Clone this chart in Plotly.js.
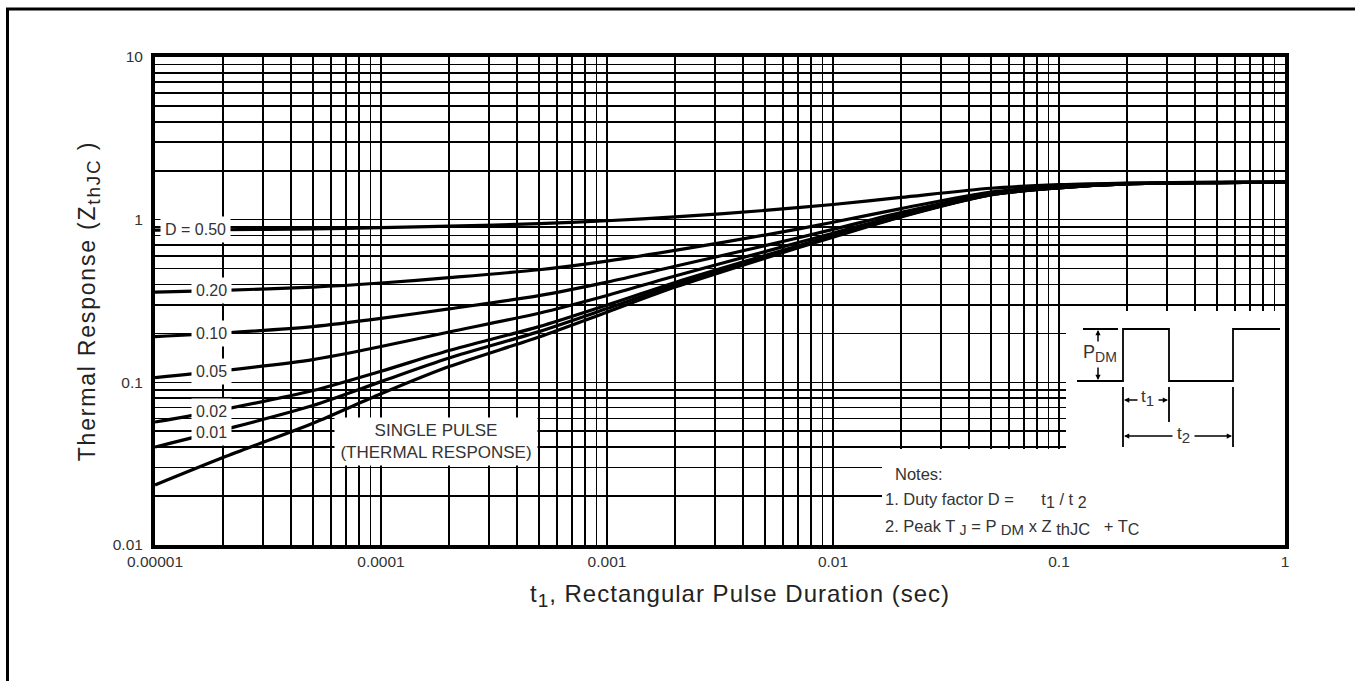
<!DOCTYPE html>
<html><head><meta charset="utf-8">
<script src="https://cdn.plot.ly/plotly-3.0.1.min.js"></script>
<style>
html,body{margin:0;padding:0;background:#fff;overflow:hidden}
#chart{width:1355px;height:681px}
#chart .xtitle{letter-spacing:1px;transform:translate(20px,0px)}
#chart .ytitle{letter-spacing:1.8px}
</style>
</head><body><div id="chart"></div>
<script>
// ---- data ----
const pulseDuration = [1e-5,2e-5,5e-5,1e-4,2e-4,5e-4,1e-3,2e-3,5e-3,1e-2,2e-2,5e-2,0.1,0.2,0.5,1];
const zD050  = [0.862,0.867,0.878,0.893,0.912,0.945,0.985,1.04,1.14,1.24,1.37,1.56,1.64,1.68,1.70,1.70];
const zD020  = [0.359,0.368,0.385,0.408,0.44,0.492,0.556,0.648,0.804,0.964,1.17,1.48,1.60,1.67,1.69,1.70];
const zD010  = [0.191,0.201,0.220,0.247,0.283,0.341,0.413,0.517,0.692,0.872,1.106,1.448,1.58,1.66,1.69,1.70];
const zD005  = [0.107,0.118,0.138,0.166,0.204,0.266,0.342,0.451,0.636,0.826,1.073,1.434,1.58,1.66,1.69,1.70];
const zD002  = [0.057,0.068,0.089,0.117,0.157,0.220,0.299,0.411,0.602,0.798,1.053,1.426,1.57,1.66,1.69,1.70];
const zD001  = [0.040,0.051,0.072,0.101,0.141,0.205,0.284,0.398,0.591,0.789,1.047,1.423,1.57,1.66,1.69,1.70];
const zSingle= [0.0234,0.0345,0.056,0.085,0.125,0.19,0.27,0.385,0.58,0.78,1.04,1.42,1.57,1.66,1.69,1.70];
const dutySeries = [zD050, zD020, zD010, zD005, zD002, zD001];
const dutyLabels = ['D = 0.50','0.20','0.10','0.05','0.02','0.01'];
const xTickVals = [1e-5, 1e-4, 1e-3, 1e-2, 1e-1, 1];
const xTickLabels = ['0.00001','0.0001','0.001','0.01','0.1','1'];
const yTickVals = [0.01, 0.1, 1, 10];
const yTickLabels = ['0.01','0.1','1','10'];

// ---- helpers ----
const FONT = 'Liberation Sans, Arial, sans-serif';
const TXT = '#333';
const L = 155, R = 1285, T = 57, B = 545;
const px = x => (x - L) / (R - L);
const py = y => (B - y) / (B - T);
const sub = (s, size) => '<sub><span style="font-size:' + size + 'px">' + s + '</span></sub>';

// minor grid positions: 2..9 within every decade
function minorGrid(decades) {
  const v = [];
  decades.slice(0, -1).forEach(d => { for (let m = 2; m <= 9; m++) v.push(m * d); });
  return v;
}

function curveAt(series, xlog) {
  const lx = pulseDuration.map(Math.log10);
  for (let i = 0; i < lx.length - 1; i++) {
    if (xlog >= lx[i] && xlog <= lx[i + 1]) {
      const f = (xlog - lx[i]) / (lx[i + 1] - lx[i]);
      return Math.log10(series[i]) * (1 - f) + Math.log10(series[i + 1]) * f;
    }
  }
  return Math.log10(series[0]);
}

// ---- traces ----
const lineStyle = {color: '#000', width: 3.2, shape: 'spline', smoothing: 0.8};
const traces = dutySeries.concat([zSingle]).map(s => ({
  x: pulseDuration, y: s, type: 'scatter', mode: 'lines', line: lineStyle,
  hoverinfo: 'skip', showlegend: false
}));

// ---- annotations ----
const annotations = [];
dutyLabels.forEach((lab, i) => {
  const xl = i === 0 ? -4.819 : -4.752;
  annotations.push({
    xref: 'x', yref: 'y', x: xl, y: curveAt(dutySeries[i], xl), text: lab,
    xanchor: 'center', yanchor: 'middle',
    showarrow: false, bgcolor: '#fff', borderpad: 4,
    font: {family: FONT, size: 16, color: TXT}
  });
});
annotations.push({
  xref: 'paper', yref: 'paper', x: px(436), y: py(441.5), xanchor: 'center', yanchor: 'middle',
  text: 'SINGLE PULSE<br>(THERMAL RESPONSE)', showarrow: false,
  bgcolor: '#fff', width: 198, height: 43, borderpad: 2,
  font: {family: FONT, size: 17, color: TXT}
});
const noteLines = [
  ['Notes:', 893, 474],
  ['1. Duty factor D =      t' + sub('1', 16) + ' / t ' + sub('2', 16), 883, 500],
  ['2. Peak T ' + sub('J', 14) + ' = P ' + sub('DM', 15) + ' x Z ' + sub('thJC', 16.5) + '   + T' + sub('C', 16), 883, 527]
];
noteLines.forEach(n => annotations.push({
  xref: 'paper', yref: 'paper', x: px(n[1]), y: py(n[2]), xanchor: 'left', yanchor: 'middle',
  text: n[0], showarrow: false, font: {family: FONT, size: 16.5, color: TXT}
}));
// waveform labels
annotations.push({xref:'paper', yref:'paper', x: px(1100), y: py(353), xanchor:'center', yanchor:'middle',
  text:'P' + sub('DM', 14), showarrow:false, bgcolor:'#fff', borderpad:0, font:{family:FONT,size:18,color:TXT}});
annotations.push({xref:'paper', yref:'paper', x: px(1147), y: py(398), xanchor:'center', yanchor:'middle',
  text:'t' + sub('1', 15), showarrow:false, font:{family:FONT,size:17,color:TXT}});
annotations.push({xref:'paper', yref:'paper', x: px(1183), y: py(435), xanchor:'center', yanchor:'middle',
  text:'t' + sub('2', 15), showarrow:false, font:{family:FONT,size:17,color:TXT}});
// arrows [headX, headY, tailX, tailY]
const arrows = [
  [1098, 330, 1098, 343], [1098, 380, 1098, 366],
  [1124, 400, 1139, 400], [1168, 400, 1157, 400],
  [1124, 436, 1174, 436], [1232, 436, 1193, 436]
];
arrows.forEach(a => annotations.push({
  xref:'paper', yref:'paper', x: px(a[0]), y: py(a[1]), ax: a[2] - a[0], ay: a[3] - a[1],
  text: '', showarrow: true, arrowhead: 2, arrowsize: 0.7, arrowwidth: 1.5, arrowcolor: '#000', standoff: 0
}));

// ---- shapes ----
const shapes = [];
shapes.push({type:'rect', xref:'paper', yref:'paper', x0:px(1066), x1:1, y0:0, y1:py(311),
  fillcolor:'#fff', line:{width:0}, layer:'above'});
shapes.push({type:'rect', xref:'paper', yref:'paper', x0:px(882), x1:1, y0:0, y1:py(449),
  fillcolor:'#fff', line:{width:0}, layer:'above'});
const P = (x, y) => px(x) + ',' + py(y);
shapes.push({type:'path', xref:'paper', yref:'paper', layer:'above', line:{color:'#000', width:1.8},
  path: 'M' + P(1077,381) + ' L' + P(1123,381) + ' L' + P(1123,329) + ' L' + P(1169,329) + ' L' + P(1169,381) +
        ' L' + P(1233,381) + ' L' + P(1233,329) + ' L' + P(1280,329)});
const segs = [
  [1083,329,1118,329],
  [1123,387,1123,447], [1169,387,1169,422], [1233,387,1233,447]
];
segs.forEach(s => shapes.push({type:'line', xref:'paper', yref:'paper', layer:'above',
  x0:px(s[0]), y0:py(s[1]), x1:px(s[2]), y1:py(s[3]), line:{color:'#000', width:1.8}}));
shapes.push({type:'path', xref:'paper', yref:'paper', layer:'above', line:{color:'#000', width:3},
  path: 'M' + P(7.5,700) + ' L' + P(7.5,9) + ' L' + P(1370,9)});

const axisCommon = {
  type: 'log', showgrid: true, gridcolor: '#000', gridwidth: 1.6,
  showline: true, linecolor: '#000', linewidth: 4, mirror: true,
  ticks: '', zeroline: false, automargin: false, fixedrange: true,
  tickfont: {family: FONT, size: 15.5, color: TXT}
};

const layout = {
  width: 1355, height: 681,
  margin: {l: L, r: 1355 - R, t: T, b: 681 - B, pad: 0},
  paper_bgcolor: '#fff', plot_bgcolor: '#fff',
  showlegend: false,
  xaxis: Object.assign({}, axisCommon, {
    range: [-5, 0], tickmode: 'array', tickvals: xTickVals, ticktext: xTickLabels, tickangle: 0, ticklabelstandoff: -1,
    minor: {tickmode: 'array', tickvals: minorGrid(xTickVals), showgrid: true, gridcolor: '#000', gridwidth: 1.6, ticks: ''},
    title: {text: 't' + sub('1', 19) + ', Rectangular Pulse Duration (sec)', standoff: 18,
      font: {family: FONT, size: 24, color: '#222'}}
  }),
  yaxis: Object.assign({}, axisCommon, {
    range: [-2, 1], tickmode: 'array', tickvals: yTickVals, ticktext: yTickLabels, ticklabelstandoff: 5,
    minor: {tickmode: 'array', tickvals: minorGrid(yTickVals), showgrid: true, gridcolor: '#000', gridwidth: 1.6, ticks: ''},
    title: {text: 'Thermal Response (Z' + sub('thJC', 19) + ' )', standoff: 12,
      font: {family: FONT, size: 23, color: '#222'}}
  }),
  annotations: annotations,
  shapes: shapes
};

Plotly.newPlot('chart', traces, layout, {staticPlot: true, displayModeBar: false});
</script>
</body></html>
